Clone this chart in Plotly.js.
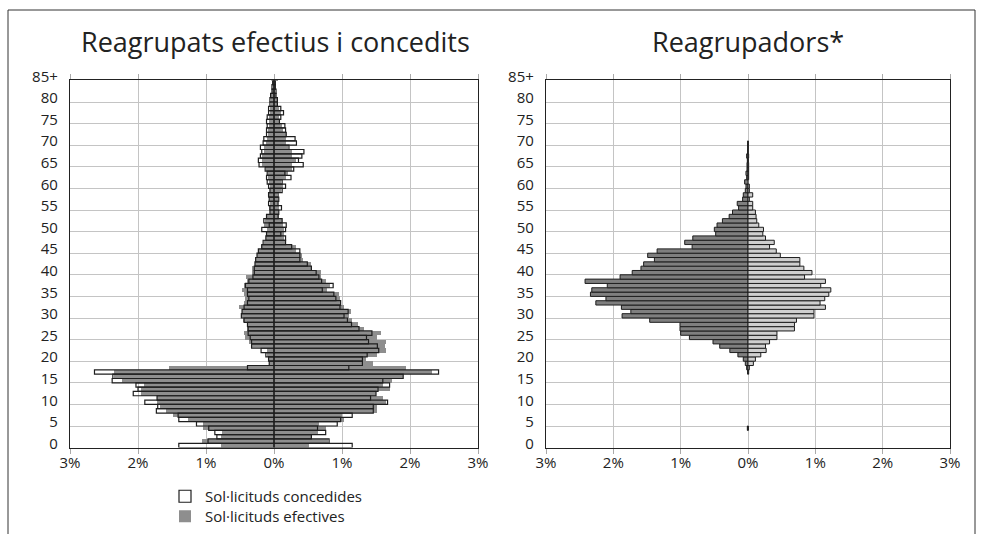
<!DOCTYPE html>
<html>
<head>
<meta charset="utf-8">
<script src="https://cdn.plot.ly/plotly-3.0.1.min.js"></script>
<style>html,body{margin:0;padding:0;background:#fff;}#chart{width:983px;height:534px;}</style>
</head>
<body>
<div id="chart"></div>
<script>
// Ages (one bar per year of age; 85 = "85+")
const ages = [0,1,2,3,4,5,6,7,8,9,10,11,12,13,14,15,16,17,18,19,20,21,22,23,24,25,26,27,28,29,30,31,32,33,34,35,36,37,38,39,40,41,42,43,44,45,46,47,48,49,50,51,52,53,54,55,56,57,58,59,60,61,62,63,64,65,66,67,68,69,70,71,72,73,74,75,76,77,78,79,80,81,82,83,84,85];
const ageTickVals = [0,5,10,15,20,25,30,35,40,45,50,55,60,65,70,75,80,85];
const ageTickText = ['0','5','10','15','20','25','30','35','40','45','50','55','60','65','70','75','80','85+'];
const pctTickVals = [-3,-2,-1,0,1,2,3];
const pctTickText = ['3%','2%','1%','0%','1%','2%','3%'];

// Left chart: "Reagrupats efectius i concedits" (% ; left side / right side)
const concedidesEsq = [1.40,0.97,0.84,0.87,0.96,1.14,1.40,1.41,1.73,1.71,1.90,1.72,2.07,2.00,2.03,2.38,2.37,2.64,0.39,0.07,0.08,0.12,0.19,0.33,0.33,0.35,0.38,0.38,0.39,0.44,0.48,0.47,0.44,0.39,0.37,0.39,0.39,0.42,0.37,0.31,0.29,0.29,0.28,0.27,0.25,0.23,0.18,0.16,0.12,0.11,0.18,0.07,0.15,0.11,0.06,0.06,0.08,0.07,0.08,0.06,0.08,0.10,0.11,0.10,0.13,0.22,0.23,0.20,0.18,0.20,0.16,0.15,0.11,0.11,0.10,0.11,0.10,0.08,0.08,0.06,0.06,0.05,0.03,0.03,0.02,0.03];
const concedidesDre = [1.15,0.81,0.55,0.76,0.64,0.93,0.98,1.15,1.46,1.46,1.67,1.42,1.50,1.53,1.70,1.60,1.90,2.42,1.10,1.30,1.30,1.37,1.54,1.52,1.39,1.36,1.44,1.25,1.14,1.08,1.03,1.09,0.97,0.98,0.91,0.88,0.71,0.87,0.70,0.66,0.62,0.55,0.49,0.38,0.38,0.38,0.26,0.17,0.17,0.10,0.17,0.18,0.12,0.06,0.07,0.11,0.06,0.07,0.06,0.12,0.17,0.12,0.25,0.16,0.29,0.43,0.36,0.41,0.44,0.22,0.33,0.31,0.18,0.17,0.16,0.08,0.10,0.14,0.10,0.05,0.05,0.03,0.03,0.02,0.02,0.05];
const efectivesEsq = [0.78,1.06,0.78,0.77,1.05,1.05,1.26,1.49,1.59,1.68,1.72,1.72,1.96,1.96,1.91,2.23,2.35,2.35,1.55,0.08,0.08,0.10,0.10,0.34,0.37,0.42,0.44,0.40,0.40,0.45,0.48,0.47,0.52,0.44,0.43,0.44,0.47,0.44,0.39,0.41,0.32,0.32,0.28,0.27,0.25,0.23,0.19,0.15,0.12,0.11,0.11,0.15,0.13,0.10,0.06,0.07,0.06,0.06,0.07,0.06,0.06,0.08,0.09,0.09,0.12,0.17,0.18,0.17,0.15,0.15,0.12,0.10,0.09,0.09,0.08,0.08,0.07,0.06,0.06,0.05,0.05,0.04,0.03,0.02,0.02,0.02];
const efectivesDre = [0.51,0.80,0.55,0.64,0.77,0.66,1.03,1.00,1.51,1.51,1.64,1.61,1.50,1.70,1.60,1.74,1.90,2.33,1.94,1.45,1.36,1.52,1.64,1.63,1.64,1.52,1.57,1.32,1.23,1.14,1.10,1.13,1.03,0.98,0.97,0.95,0.78,0.83,0.76,0.69,0.69,0.55,0.54,0.42,0.41,0.32,0.32,0.18,0.15,0.14,0.15,0.13,0.12,0.07,0.06,0.08,0.06,0.06,0.05,0.10,0.13,0.11,0.18,0.20,0.27,0.27,0.32,0.27,0.27,0.20,0.17,0.17,0.17,0.13,0.12,0.07,0.08,0.10,0.08,0.04,0.04,0.03,0.02,0.02,0.02,0.03];

// Right chart: "Reagrupadors*" (% ; left side / right side)
const reagrupadorsEsq = [0,0,0,0,0.01,0,0,0,0,0,0,0,0,0,0,0,0,0.005,0.02,0.04,0.07,0.15,0.27,0.42,0.52,0.87,1.00,1.01,1.01,1.46,1.87,1.74,1.88,2.26,2.11,2.34,2.32,2.09,2.42,1.90,1.72,1.59,1.55,1.39,1.49,1.35,0.83,0.94,0.82,0.48,0.50,0.46,0.38,0.28,0.23,0.14,0.16,0.08,0.07,0.04,0.03,0.05,0.02,0.03,0.015,0.015,0.01,0.02,0.005,0.003,0.002,0,0,0,0,0,0,0,0,0,0,0,0,0,0,0];
const reagrupadorsDre = [0,0,0,0,0.005,0,0,0,0,0,0,0,0,0,0,0,0,0.01,0.02,0.08,0.11,0.19,0.27,0.26,0.32,0.43,0.43,0.69,0.69,0.72,0.98,0.98,1.15,1.07,1.14,1.20,1.23,1.08,1.15,0.84,0.95,0.83,0.77,0.77,0.48,0.42,0.32,0.39,0.26,0.22,0.23,0.16,0.13,0.12,0.11,0.07,0.07,0.02,0.07,0.02,0.02,0,0.01,0.01,0.01,0.01,0.005,0.01,0.002,0.002,0.001,0,0,0,0,0,0,0,0,0,0,0,0,0,0,0];

// zero-length bars are left out so they draw no outline
const left = a => a.map(v => v === 0 ? null : -v);
const right = a => a.map(v => v === 0 ? null : v);
const FONT = 'Open Sans, Noto Sans, sans-serif';
const TXT = '#222';

const barBase = {type:'bar', orientation:'h', y:ages, offset:0, width:1, hoverinfo:'skip'};

const traces = [
  Object.assign({}, barBase, {x:left(efectivesEsq), name:'Sol·licituds efectives', legend:'legend2', showlegend:true,
    marker:{color:'#8e8e8e', line:{width:0}}, xaxis:'x', yaxis:'y'}),
  Object.assign({}, barBase, {x:right(efectivesDre), name:'Sol·licituds efectives', showlegend:false,
    marker:{color:'#8e8e8e', line:{width:0}}, xaxis:'x', yaxis:'y'}),
  Object.assign({}, barBase, {x:left(concedidesEsq), name:'Sol·licituds concedides', legend:'legend', showlegend:true,
    marker:{color:'rgba(255,255,255,0)', line:{width:1.2, color:'#1e1e1e'}}, xaxis:'x', yaxis:'y'}),
  Object.assign({}, barBase, {x:right(concedidesDre), name:'Sol·licituds concedides', showlegend:false,
    marker:{color:'rgba(255,255,255,0)', line:{width:1.2, color:'#1e1e1e'}}, xaxis:'x', yaxis:'y'}),
  Object.assign({}, barBase, {x:left(reagrupadorsEsq), name:'Reagrupadors', showlegend:false,
    marker:{color:'#7f7f7f', line:{width:1, color:'#1e1e1e'}}, xaxis:'x2', yaxis:'y2'}),
  Object.assign({}, barBase, {x:right(reagrupadorsDre), name:'Reagrupadores', showlegend:false,
    marker:{color:'#cfcfcf', line:{width:1, color:'#1e1e1e'}}, xaxis:'x2', yaxis:'y2'})
];

const W = 983, H = 534;
const yDom = [(H-447.6)/H, (H-80.4)/H];

function xAx(dom, anchor){
  return {domain:dom, anchor:anchor, range:[-3,3], tickvals:pctTickVals, ticktext:pctTickText,
    showgrid:true, gridcolor:'#c4c4c4', gridwidth:1, zeroline:false,
    showline:true, linecolor:'#222', linewidth:1.2, mirror:'ticks',
    ticks:'outside', ticklen:5, tickcolor:'#aaa', ticklabelstandoff:-4,
    tickfont:{family:FONT, size:15, color:TXT}, fixedrange:true};
}
function yAx(anchor){
  return {domain:yDom, anchor:anchor, range:[0,85], tickvals:ageTickVals, ticktext:ageTickText,
    showgrid:true, gridcolor:'#c4c4c4', gridwidth:1, zeroline:false,
    showline:true, linecolor:'#222', linewidth:1.2, mirror:true, ticks:'',
    ticklabelshift:-4, ticklabelstandoff:8,
    tickfont:{family:FONT, size:15, color:TXT}, fixedrange:true};
}
function leg(topPx){
  return {x:165/W, y:(H-topPx)/H, xanchor:'left', yanchor:'top', orientation:'v',
    bgcolor:'rgba(0,0,0,0)', font:{family:FONT, size:15, color:TXT}, itemwidth:30};
}

const layout = {
  width:W, height:H, margin:{l:0,r:0,t:0,b:0, autoexpand:false},
  paper_bgcolor:'#fff', plot_bgcolor:'#fff',
  barmode:'overlay', bargap:0,
  font:{family:FONT, size:15, color:TXT},
  xaxis: xAx([70/W, 478/W], 'y'),
  yaxis: yAx('x'),
  xaxis2: xAx([546/W, 950/W], 'y2'),
  yaxis2: yAx('x2'),
  showlegend:true,
  legend: leg(480),
  legend2: leg(500),
  annotations:[
    {text:'Reagrupats efectius i concedits', xref:'paper', yref:'paper', x:275/W, y:(H-42)/H,
      xanchor:'center', yanchor:'middle', showarrow:false, font:{family:FONT, size:27, color:TXT}},
    {text:'Reagrupadors*', xref:'paper', yref:'paper', x:748/W, y:(H-42)/H,
      xanchor:'center', yanchor:'middle', showarrow:false, font:{family:FONT, size:27, color:TXT}}
  ],
  shapes:[
    {type:'rect', xref:'paper', yref:'paper', x0:8/W, x1:975/W, y0:-0.02, y1:(H-10)/H,
      line:{color:'#333', width:1}, fillcolor:'rgba(0,0,0,0)', layer:'below'}
  ]
};

Plotly.newPlot('chart', traces, layout, {displayModeBar:false, staticPlot:true});
</script>
</body>
</html>
